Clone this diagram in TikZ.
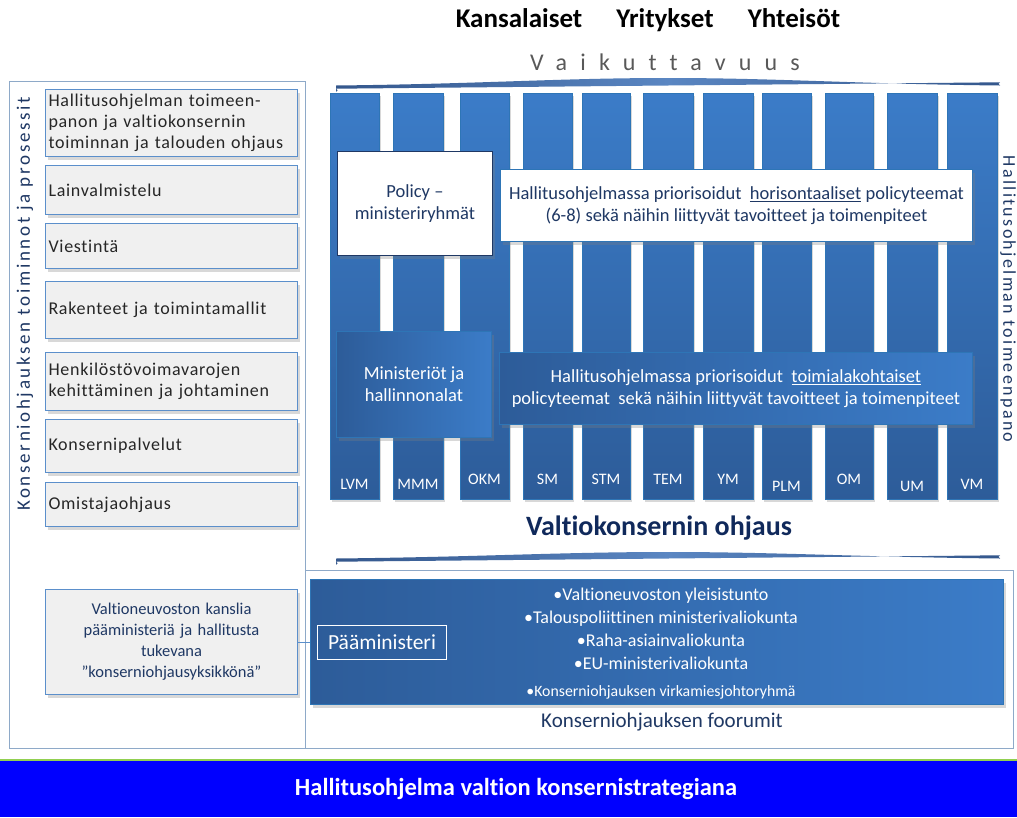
\documentclass[tikz,border=0pt]{standalone}
\usepackage{fontspec}
\setmainfont{Carlito}[Ligatures={CommonOff}]
\usetikzlibrary{shadows,calc,backgrounds}
\definecolor{dblue}{HTML}{1F3864}
\definecolor{navy}{HTML}{10295B}
\definecolor{colTop}{HTML}{3B7CC8}
\definecolor{colBot}{HTML}{2D5C99}
\definecolor{colEdge}{HTML}{2E75B6}
\definecolor{frameC}{HTML}{8EA9C8}
\definecolor{grayfill}{HTML}{F0F0F0}
\definecolor{lineblue}{HTML}{5B8FCB}
\definecolor{banner}{HTML}{0000FF}
\definecolor{bannerLine}{HTML}{92D050}
\definecolor{barDark}{HTML}{34578C}
\definecolor{barLight}{HTML}{5A86C2}
\definecolor{txtgray}{HTML}{595959}
\begin{document}
\begin{tikzpicture}[x=1pt,y=-1pt,
  shadowed/.style={drop shadow={opacity=0.3,shadow xshift=2pt,shadow yshift=-3pt}},
  frame/.style={draw=frameC,line width=0.8pt,anchor=north west,inner sep=0pt},
  leftbox/.style={draw=lineblue,fill=grayfill,line width=1pt,shadowed,anchor=north west,
    inner xsep=2pt,inner ysep=0pt,text width=246pt,align=left,minimum width=252pt,
    text=black!85,font=\fontsize{18}{21}\selectfont\addfontfeatures{LetterSpace=4}},
  col/.style={draw=colEdge,line width=0.8pt,top color=colTop,bottom color=colBot,
    shadowed,anchor=north west,inner sep=0pt,minimum height=406pt},
  collab/.style={text=white,font=\fontsize{16}{19}\selectfont,inner sep=0pt},
  whitebox/.style={fill=white,shadowed,anchor=north west,inner sep=0pt,align=center,
    text=dblue,font=\fontsize{18.5}{22}\selectfont},
  gradbox/.style={draw=colEdge,line width=1pt,left color=colBot,right color=colTop,shadowed,
    anchor=north west,inner sep=0pt,align=center,text=white,font=\fontsize{18.5}{22}\selectfont},
  title/.style={anchor=base,font=\fontsize{27}{29}\selectfont\bfseries}
]
\useasboundingbox (0,0) rectangle (1017,817);
\fill[white] (0,0) rectangle (1017,817);

% header
\node[title] (kans) at (519,27) {Kansalaiset};
\node[title] (yrit) at (665,27) {Yritykset};
\node[title] (yhte) at (794,27) {Yhteisöt};
\node[text=txtgray,font=\fontsize{24}{26}\selectfont\addfontfeatures{LetterSpace=55}] (vaik) at (665,62) {Vaikuttavuus};

% upper lens bar
\shade[left color=barDark,right color=barDark,middle color=barLight]
  (336,85.5) .. controls (480,84) and (560,78) .. (668,78)
  .. controls (776,78) and (860,84) .. (1000,85.5)
  arc (-90:90:-1.6) -- (336,88.7) arc (90:270:-1.6) -- cycle;

% frames
\node[frame,minimum width=296pt,minimum height=667pt] (leftframe) at (9,81) {};
\node[frame,minimum width=708pt,minimum height=178pt] (forumframe) at (305,570) {};

% columns
\foreach \i/\l/\r/\lab/\ly in {1/330/379/LVM/484,2/393/443/MMM/484,3/460/509/OKM/479,
  4/523/572/SM/479,5/582/630/STM/479,6/643/693/TEM/479,7/703/753/YM/479,
  8/762/811/PLM/486,9/825/873/OM/479,10/887/937/UM/486,11/947/997/VM/484}{
  \node[col,minimum width={(\r-\l)*1pt}] (c\i) at (\l,93) {};
  \node[collab] (lab\i) at ({(\l+\r)/2},\ly) {\lab};
}

% boxes over columns
\node[whitebox,draw=dblue,line width=1pt,minimum width=155pt,minimum height=104pt] (policy) at (337,151)
  {Policy --\\ministeriryhmät};
\node[whitebox,draw=colEdge,line width=1pt,minimum width=472pt,minimum height=72pt] (horiz) at (500,169)
  {Hallitusohjelmassa priorisoidut\ \ \underline{horisontaaliset} policyteemat\\(6-8) sekä\ näihin liittyvät tavoitteet ja toimenpiteet};
\node[gradbox,minimum width=155pt,minimum height=106pt] (mini) at (336,331)
  {Ministeriöt ja\\hallinnonalat};
\node[gradbox,minimum width=473pt,minimum height=72pt] (toimi) at (499,352)
  {Hallitusohjelmassa priorisoidut\ \ \underline{toimialakohtaiset}\\policyteemat\ \ sekä\ näihin liittyvät tavoitteet ja toimenpiteet};

% right vertical text
\node[rotate=-90,text=dblue,font=\fontsize{18}{20}\selectfont\addfontfeatures{LetterSpace=13}] (rvt) at (1008,299)
  {Hallitusohjelman toimeenpano};

% Valtiokonsernin ohjaus
\node[text=navy,font=\fontsize{28}{30}\selectfont\bfseries] (vko) at (659,528) {Valtiokonsernin ohjaus};
\shade[left color=barDark,right color=barDark,middle color=barLight]
  (336,558.5) .. controls (480,557) and (560,552) .. (668,552)
  .. controls (776,552) and (860,557) .. (1000,558.5)
  arc (-90:90:-1.6) -- (336,561.7) arc (90:270:-1.6) -- cycle;

% left column
\node[rotate=90,text=dblue,font=\fontsize{19}{21}\selectfont\addfontfeatures{LetterSpace=14}] (lvt) at (25,304)
  {Konserniohjauksen toiminnot ja prosessit};
\node[leftbox,minimum height=67pt] (b1) at (45,89) {Hallitusohjelman toimeen-\\panon ja valtiokonsernin\\toiminnan ja talouden ohjaus};
\node[leftbox,minimum height=49pt] (b2) at (45,165) {Lainvalmistelu};
\node[leftbox,minimum height=45pt] (b3) at (45,223) {Viestintä};
\node[leftbox,minimum height=57pt] (b4) at (45,281) {Rakenteet ja toimintamallit};
\node[leftbox,minimum height=58pt] (b5) at (45,352) {Henkilöstövoimavarojen\\kehittäminen ja johtaminen};
\node[leftbox,minimum height=53pt] (b6) at (45,419) {Konsernipalvelut};
\node[leftbox,minimum height=44pt] (b7) at (45,482) {Omistajaohjaus};
\node[leftbox,minimum height=105pt,align=center,text=dblue,font=\fontsize{16.5}{21}\selectfont] (b8) at (45,589)
  {Valtioneuvoston kanslia\\pääministeriä ja hallitusta\\tukevana\\”konserniohjausyksikkönä”};
\begin{scope}[on background layer]
  \draw[lineblue,line width=1pt] ($(b1.south west)+(15,0)$) -- ($(b8.north west)+(15,0)$);
\end{scope}

% forum
\node[gradbox,draw=colEdge,minimum width=693pt,minimum height=125pt] (forum) at (310,579) {};
\draw[lineblue,line width=1pt] (b8.east) -- (forum.west |- b8.east);
\node[draw=white,line width=1pt,text=white,inner sep=0pt,minimum width=129pt,minimum height=34pt,
  font=\fontsize{21.5}{23}\selectfont] (pm) at (382,642) {Pääministeri};
\node[text=white,align=center,font=\fontsize{18}{23}\selectfont,anchor=north] (list) at (661,584)
  {•Valtioneuvoston yleisistunto\\•Talouspoliittinen ministerivaliokunta\\•Raha-asiainvaliokunta\\•EU-ministerivaliokunta};
\node[text=white,font=\fontsize{15.8}{17}\selectfont] (virk) at (661,692) {•Konserniohjauksen virkamiesjohtoryhmä};
\node[text=dblue,font=\fontsize{21}{23}\selectfont] (foor) at (662,722) {Konserniohjauksen foorumit};

% banner
\node[fill=banner,anchor=north west,inner sep=0pt,minimum width=1017pt,minimum height=57pt] (ban) at (0,760) {};
\draw[bannerLine,line width=1.5pt] (ban.north west) -- (ban.north east);
\node[text=white,font=\fontsize{24.5}{26}\selectfont\bfseries] (bantxt) at (516,789) {Hallitusohjelma valtion konsernistrategiana};
\end{tikzpicture}
\end{document}
